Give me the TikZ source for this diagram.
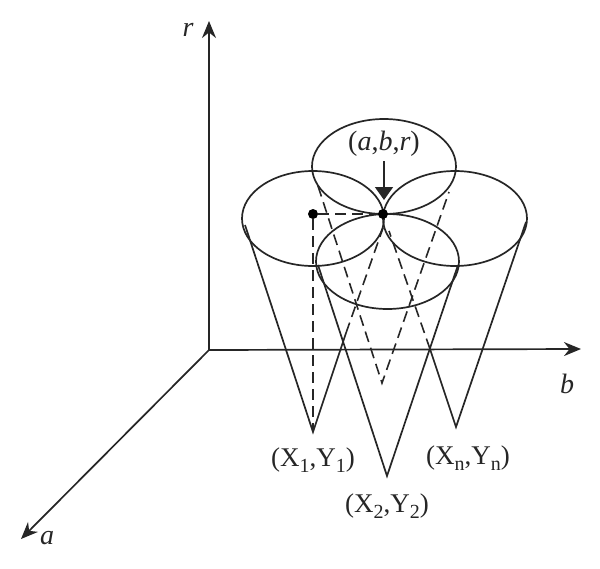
\documentclass[tikz,border=0pt]{standalone}
\usepackage{fontspec}
\setmainfont{Liberation Serif}
\usetikzlibrary{arrows.meta}
\newcommand{\lowsub}[1]{\raisebox{-6pt}{\fontsize{20}{21}\selectfont #1}}
\tikzset{
  ln/.style={line width=1.7pt,color=black!85},
  dsh/.style={line width=1.6pt,color=black!85,dash pattern=on 11pt off 6pt},
  axis/.style={ln,-{Stealth[length=17pt,width=14pt]}},
  pointer/.style={ln,-{Triangle[length=13pt,width=18pt]}},
  dotn/.style={circle,fill=black,inner sep=0pt,minimum size=10pt},
  lab/.style={font=\fontsize{27}{30}\selectfont,inner sep=0pt,color=black!85},
  alab/.style={font=\fontsize{28}{30}\selectfont\itshape,inner sep=0pt,color=black!85},
  pt/.style={inner sep=0pt,minimum size=0pt}
}
\begin{document}
\begin{tikzpicture}[x=1pt,y=-1pt]
\useasboundingbox (0,0) rectangle (600,568);
% axes
\coordinate (O) at (209,350);
\coordinate (rEnd) at (209,21);
\coordinate (bEnd) at (581,349);
\coordinate (aEnd) at (21,539);
\draw[axis] (O) -- (rEnd);
\draw[axis] (O) -- (bEnd);
\draw[axis] (O) -- (aEnd);
\node[alab] (lr) at (188,30) {r};
\node[alab] (lb) at (567,384) {b};
\node[alab] (la) at (47,538) {a};
% ellipses
\draw[ln] (384,166.5) ellipse [x radius=72,y radius=47.5];
\draw[ln] (313,218.5) ellipse [x radius=71,y radius=47.5];
\draw[ln] (455,218.5) ellipse [x radius=72,y radius=47.5];
\draw[ln] (387.5,261.5) ellipse [x radius=71.5,y radius=47.5];
% cone points
\coordinate (A1) at (313,432);
\coordinate (A2) at (387,476);
\coordinate (An) at (456,427);
\coordinate (A0) at (382,383);
\coordinate (L1) at (245,225);
\coordinate (M1) at (346,333);
\coordinate (T1) at (383,228);
\coordinate (L2) at (318,265);
\coordinate (R2) at (458,265);
\coordinate (Rn) at (526,222);
\coordinate (Mn) at (430,349);
\coordinate (Tn) at (389,231);
\coordinate (L0) at (318,186);
\coordinate (R0) at (449,192);
% solid cones
\draw[ln] (L1) -- (A1) -- (M1);
\draw[ln] (L2) -- (A2) -- (R2);
\draw[ln] (Rn) -- (An) -- (Mn);
% hidden cone parts
\draw[dsh] (M1) -- (T1);
\draw[dsh] (Mn) -- (Tn);
\draw[dsh] (L0) -- (A0) -- (R0);
% centres
\node[dotn] (P1) at (313,214) {};
\node[dotn] (P) at (383,214) {};
\draw[dsh] (P1) -- (P);
\draw[dsh] (P1) -- (A1);
% pointer
\coordinate (pstart) at (384,161);
\draw[pointer] (pstart) -- (384,200);
% labels
\node[alab] (lp) at (384,144) {\upshape(\itshape a\upshape,\itshape b\upshape,\itshape r\upshape)};
\node[lab] (l1) at (313,460) {(X\lowsub{1},Y\lowsub{1})};
\node[lab] (l2) at (387,506) {(X\lowsub{2},Y\lowsub{2})};
\node[lab] (ln) at (468,458) {(X\lowsub{n},Y\lowsub{n})};
\end{tikzpicture}
\end{document}
